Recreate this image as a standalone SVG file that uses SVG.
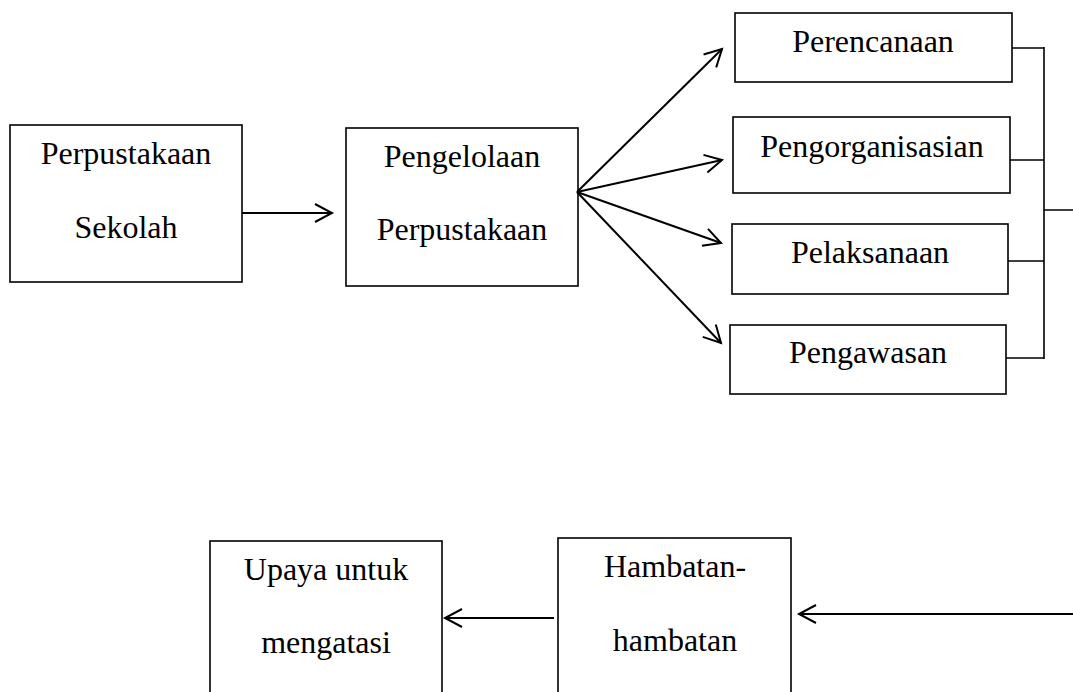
<svg xmlns="http://www.w3.org/2000/svg" width="1073" height="692" viewBox="0 0 1073 692">
<defs>
<style>
.box{fill:#fff;stroke:#000;stroke-width:1.6}
.t{font-family:"Liberation Serif","Times New Roman",serif;font-size:32px;fill:#000;text-anchor:middle}
.c{fill:none;stroke:#000;stroke-width:2}
.b{fill:none;stroke:#000;stroke-width:1.6}
</style>
<marker id="ah" markerUnits="userSpaceOnUse" markerWidth="24" markerHeight="24" viewBox="-20 -12 24 24" refX="0" refY="0" orient="auto">
<path d="M-17,-9 L0,0 L-17,9" fill="none" stroke="#000" stroke-width="2"/>
</marker>
</defs>
<rect width="1073" height="692" fill="#fff"/>
<g id="n1"><rect class="box" x="10" y="125" width="232" height="157"/><text class="t" x="126" y="164">Perpustakaan</text><text class="t" x="126" y="238">Sekolah</text></g>
<g id="n2"><rect class="box" x="346" y="128" width="232" height="158"/><text class="t" x="462" y="167">Pengelolaan</text><text class="t" x="462" y="240">Perpustakaan</text></g>
<g id="n3"><rect class="box" x="735" y="13" width="277" height="69"/><text class="t" x="873" y="52">Perencanaan</text></g>
<g id="n4"><rect class="box" x="733" y="117" width="277" height="76"/><text class="t" x="872" y="157">Pengorganisasian</text></g>
<g id="n5"><rect class="box" x="732" y="224" width="276" height="70"/><text class="t" x="870" y="263">Pelaksanaan</text></g>
<g id="n6"><rect class="box" x="730" y="325" width="276" height="69"/><text class="t" x="868" y="363">Pengawasan</text></g>
<g id="n7"><rect class="box" x="210" y="541" width="232" height="170"/><text class="t" x="326" y="580">Upaya untuk</text><text class="t" x="326" y="653">mengatasi</text></g>
<g id="n8"><rect class="box" x="558" y="538" width="233" height="170"/><text class="t" x="675" y="577">Hambatan-</text><text class="t" x="675" y="651">hambatan</text></g>
<g id="connectors">
<line class="c" x1="242" y1="213" x2="332" y2="213" marker-end="url(#ah)"/>
<line class="c" x1="577" y1="192" x2="722" y2="49" marker-end="url(#ah)"/>
<line class="c" x1="577" y1="192" x2="722" y2="160" marker-end="url(#ah)"/>
<line class="c" x1="577" y1="192" x2="721" y2="243" marker-end="url(#ah)"/>
<line class="c" x1="577" y1="192" x2="721" y2="343" marker-end="url(#ah)"/>
<path class="b" d="M1012,48 H1044 M1010,160 H1044 M1008,261 H1044 M1006,358 H1044 M1044,47 V359 M1044,210 H1073"/>
<line class="c" x1="1073" y1="614" x2="799" y2="614" marker-end="url(#ah)"/>
<line class="c" x1="554" y1="618" x2="445" y2="618" marker-end="url(#ah)"/>
</g>
</svg>
